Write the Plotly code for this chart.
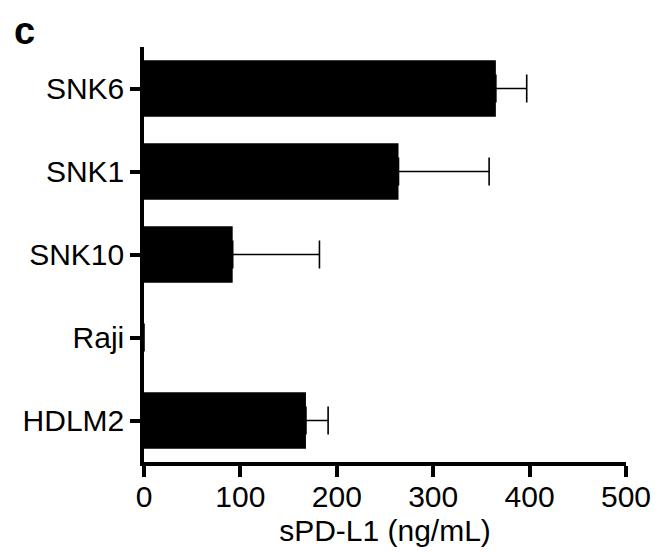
import plotly.graph_objects as go

categories = ["SNK6", "SNK1", "SNK10", "Raji", "HDLM2"]
values = [365, 264, 92, 0, 168]
errors_plus = [32, 94, 90, 0, 23]
x_ticks = [0, 100, 200, 300, 400, 500]

FONT = "Liberation Sans, Arial, sans-serif"

fig = go.Figure()
fig.add_trace(go.Bar(
    y=categories,
    x=values,
    orientation="h",
    width=0.68,
    marker=dict(color="black", line=dict(width=0)),
    error_x=dict(
        type="data",
        symmetric=False,
        array=errors_plus,
        arrayminus=[0] * len(values),
        color="black",
        thickness=1.6,
        width=14,
    ),
))

fig.update_layout(
    width=656,
    height=545,
    margin=dict(l=136, r=38, t=39, b=91),
    plot_bgcolor="white",
    paper_bgcolor="white",
    showlegend=False,
    font=dict(family=FONT, color="black", size=30),
)

fig.update_xaxes(
    range=[0, 500],
    tickvals=x_ticks,
    ticktext=[str(v) for v in x_ticks],
    showgrid=False,
    zeroline=False,
    showline=True,
    linecolor="black",
    linewidth=3.5,
    ticks="outside",
    ticklen=11,
    tickwidth=3.5,
    tickcolor="black",
    ticklabelstandoff=-6,
    tickfont=dict(family=FONT, size=30, color="black"),
    title=dict(text="sPD-L1 (ng/mL)", font=dict(family=FONT, size=30, color="black"), standoff=9),
    automargin=False,
)

fig.update_yaxes(
    type="category",
    categoryorder="array",
    categoryarray=categories,
    range=[4.5, -0.5],
    showgrid=False,
    zeroline=False,
    showline=True,
    linecolor="black",
    linewidth=3.5,
    ticks="outside",
    ticklen=10,
    tickwidth=3.5,
    tickcolor="black",
    tickfont=dict(family=FONT, size=30, color="black"),
    automargin=False,
)

fig.add_annotation(
    text="<b>c</b>",
    xref="paper", yref="paper",
    x=0, y=1,
    xshift=-132, yshift=39,
    xanchor="left", yanchor="top",
    showarrow=False,
    font=dict(family=FONT, size=38, color="black"),
)

fig.write_html("out.html")
